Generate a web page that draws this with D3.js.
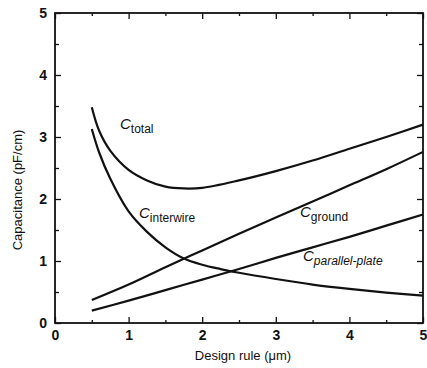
<!DOCTYPE html>
<html><head><meta charset="utf-8">
<script src="https://cdn.jsdelivr.net/npm/d3@7"></script>
<style>body{margin:0;background:#fff}svg{display:block}text{font-family:"Liberation Sans",Arial,sans-serif;fill:#111}</style>
</head><body><svg id="c" width="427" height="368"></svg>
<script>
const xTicks = [0,1,2,3,4,5];
const yTicks = [0,1,2,3,4,5];
const xTotal = [0.5,0.6,0.75,1.0,1.25,1.5,1.75,2.0,2.5,3.0,3.5,4.0,4.5,5.0];
const cTotal = [3.48,3.1,2.78,2.47,2.3,2.2,2.17,2.18,2.3,2.45,2.62,2.81,3.0,3.2];
const xInter = [0.5,0.6,0.75,1.0,1.25,1.5,1.75,2.0,2.25,2.5,3.0,3.5,4.0,4.5,5.0];
const cInter = [3.13,2.75,2.33,1.8,1.47,1.22,1.04,0.94,0.87,0.81,0.71,0.62,0.55,0.49,0.44];
const xLin = [0.5,1,1.5,2,2.5,3,3.5,4,4.5,5];
const cGround = [0.37,0.62,0.9,1.17,1.44,1.7,1.96,2.22,2.48,2.76];
const cPlate = [0.2,0.36,0.53,0.7,0.87,1.05,1.22,1.39,1.57,1.75];

const svg = d3.select("#c");
const x = d3.scaleLinear().domain([0,5]).range([55,423]);
const y = d3.scaleLinear().domain([0,5]).range([323,13]);
const g = svg.append("g");

// frame
g.append("rect").attr("x",x(0)).attr("y",y(5)).attr("width",x(5)-x(0)).attr("height",y(0)-y(5))
 .attr("fill","none").attr("stroke","#111").attr("stroke-width",1.8);

const minor = d3.range(0,5.01,0.5);
g.append("g").attr("transform",`translate(0,${y(0)})`)
 .call(d3.axisTop(x).tickValues(minor).tickSize(0).tickFormat(""))
 .call(a=>a.select(".domain").remove())
 .call(a=>a.selectAll(".tick line").attr("y2",d=>Number.isInteger(d)?-6:-3).attr("stroke","#111").attr("stroke-width",1.3));
g.append("g").attr("transform",`translate(0,${y(5)})`)
 .call(d3.axisBottom(x).tickValues(minor).tickSize(0).tickFormat(""))
 .call(a=>a.select(".domain").remove())
 .call(a=>a.selectAll(".tick line").attr("y2",d=>Number.isInteger(d)?6:3).attr("stroke","#111").attr("stroke-width",1.3));
g.append("g").attr("transform",`translate(${x(0)},0)`)
 .call(d3.axisRight(y).tickValues(minor).tickSize(0).tickFormat(""))
 .call(a=>a.select(".domain").remove())
 .call(a=>a.selectAll(".tick line").attr("x2",d=>Number.isInteger(d)?6:4).attr("stroke","#111").attr("stroke-width",1.3));
g.append("g").attr("transform",`translate(${x(5)},0)`)
 .call(d3.axisLeft(y).tickValues(minor).tickSize(0).tickFormat(""))
 .call(a=>a.select(".domain").remove())
 .call(a=>a.selectAll(".tick line").attr("x2",d=>Number.isInteger(d)?-6:-4).attr("stroke","#111").attr("stroke-width",1.3));

g.append("g").attr("transform",`translate(0,${y(0)})`)
 .call(d3.axisBottom(x).tickValues(xTicks).tickSize(0).tickPadding(7).tickFormat(d3.format("d")))
 .call(a=>a.select(".domain").remove())
 .call(a=>a.selectAll("text").attr("font-size",14).attr("font-weight","bold").attr("fill","#111"));
g.append("g").attr("transform",`translate(${x(0)},0)`)
 .call(d3.axisLeft(y).tickValues(yTicks).tickSize(0).tickPadding(8).tickFormat(d3.format("d")))
 .call(a=>a.select(".domain").remove())
 .call(a=>a.selectAll("text").attr("font-size",14).attr("font-weight","bold").attr("fill","#111"));

svg.append("text").attr("x",243).attr("y",360).attr("text-anchor","middle").attr("font-size",13).text("Design rule (\u03bcm)");
svg.append("text").attr("transform","translate(22,190) rotate(-90)").attr("text-anchor","middle").attr("font-size",13).text("Capacitance (pF/cm)");

const line = d3.line().curve(d3.curveCatmullRom.alpha(0.5)).x(d=>x(d[0])).y(d=>y(d[1]));
const series = [d3.zip(xTotal,cTotal), d3.zip(xInter,cInter), d3.zip(xLin,cGround), d3.zip(xLin,cPlate)];
g.selectAll("path.s").data(series).join("path").attr("class","s")
 .attr("d",line).attr("fill","none").attr("stroke","#111").attr("stroke-width",2.2);

function lab(px,py,sub,italicSub){
  const t = svg.append("text").attr("x",px).attr("y",py).attr("font-size",15);
  t.append("tspan").attr("font-style","italic").text("C");
  t.append("tspan").attr("dy",4).attr("font-size",12).attr("font-style",italicSub?"italic":"normal").text(sub);
}
lab(120,129,"total");
lab(139,218,"interwire");
lab(300,217,"ground");
lab(303,261,"parallel-plate",true);
</script></body></html>
